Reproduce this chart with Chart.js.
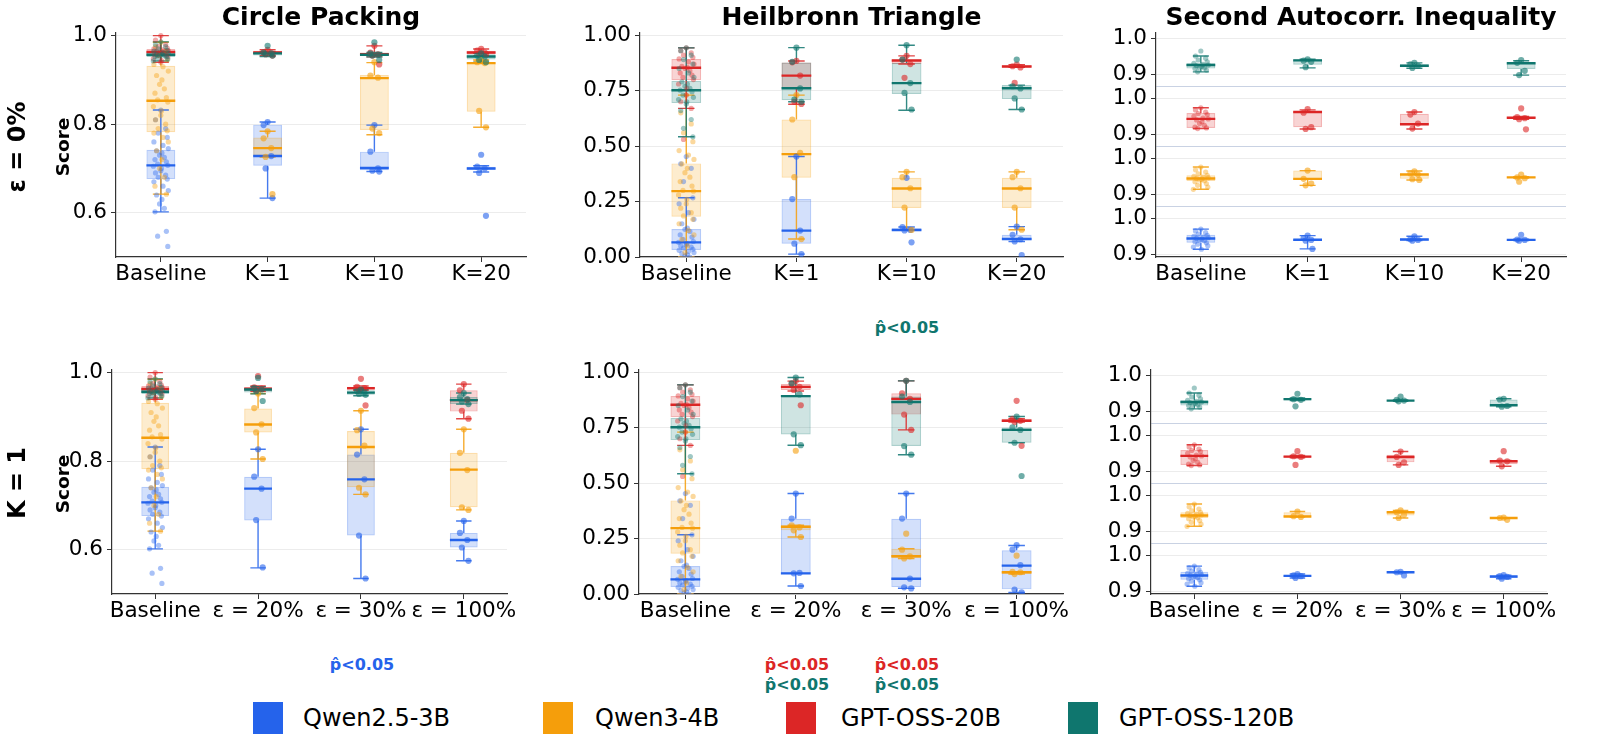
<!DOCTYPE html>
<html>
<head>
<meta charset="utf-8">
<script src="https://cdn.jsdelivr.net/npm/chart.js"></script>
<style>
  body { margin: 0; width: 1600px; height: 751px; overflow: hidden; background: #fff; position: relative; font-family: 'DejaVu Sans', sans-serif; }
  canvas { position: absolute; }
  .rot { position: absolute; white-space: nowrap; font-weight: bold; transform: translate(-50%, -50%) rotate(-90deg); }
  .note { position: absolute; white-space: nowrap; font-weight: bold; font-size: 16px; line-height: 20px; transform: translate(-50%, -50%); }
  .sw { position: absolute; top: 702px; width: 30px; height: 32px; }
  .leg { position: absolute; top: 702px; font-size: 24px; line-height: 32px; white-space: nowrap; }
</style>
</head>
<body>
<canvas id="cpTop"></canvas>
<canvas id="htTop"></canvas>
<canvas id="saTop"></canvas>
<canvas id="cpBot"></canvas>
<canvas id="htBot"></canvas>
<canvas id="saBot"></canvas>

<div class="rot" style="left:17px;top:147px;font-size:24px;">ε = 0%</div>
<div class="rot" style="left:62px;top:147px;font-size:18.5px;">Score</div>
<div class="rot" style="left:17px;top:483px;font-size:24px;">K = 1</div>
<div class="rot" style="left:62px;top:484px;font-size:18.5px;">Score</div>

<div class="note" style="left:907px;top:328px;color:#0F766E;">p̂&lt;0.05</div>
<div class="note" style="left:362px;top:665px;color:#2563EB;">p̂&lt;0.05</div>
<div class="note" style="left:797px;top:665px;color:#DC2626;">p̂&lt;0.05</div>
<div class="note" style="left:797px;top:685px;color:#0F766E;">p̂&lt;0.05</div>
<div class="note" style="left:907px;top:665px;color:#DC2626;">p̂&lt;0.05</div>
<div class="note" style="left:907px;top:685px;color:#0F766E;">p̂&lt;0.05</div>

<div id="legend"></div>

<script>
const models = ['Qwen2.5-3B', 'Qwen3-4B', 'GPT-OSS-20B', 'GPT-OSS-120B'];
const modelColors = ['#2563EB', '#F59E0B', '#DC2626', '#0F766E'];
const kCats = ['Baseline', 'K=1', 'K=10', 'K=20'];
const epsCats = ['Baseline', 'ε = 20%', 'ε = 30%', 'ε = 100%'];

// box stats: [whisker low, q1, median, q3, whisker high], one row per model

// ---- Circle Packing ----
const cpBaseBox = [[0.602,0.676,0.707,0.742,0.832],[0.642,0.782,0.853,0.932,0.985],[0.94,0.955,0.963,0.97,1.0],[0.943,0.952,0.957,0.965,0.986]];
const cpBasePts = [
  [0.832,0.81,0.79,0.78,0.77,0.76,0.752,0.745,0.74,0.735,0.73,0.725,0.72,0.715,0.71,0.707,0.705,0.70,0.695,0.69,0.685,0.68,0.676,0.67,0.66,0.65,0.64,0.63,0.62,0.61,0.602,0.558,0.547,0.524],
  [0.985,0.975,0.965,0.955,0.945,0.935,0.93,0.92,0.91,0.9,0.89,0.88,0.87,0.86,0.855,0.85,0.84,0.83,0.82,0.81,0.80,0.79,0.785,0.78,0.77,0.76,0.74,0.72,0.70,0.68,0.66,0.642],
  [1.0,0.99,0.98,0.975,0.972,0.97,0.968,0.966,0.964,0.963,0.962,0.96,0.958,0.956,0.955,0.952,0.948,0.944,0.94],
  [0.986,0.98,0.975,0.97,0.967,0.965,0.962,0.96,0.958,0.957,0.956,0.955,0.953,0.952,0.95,0.947,0.943]
];
const cpKBox = [
  [[0.633,0.706,0.728,0.799,0.805],[0.693,0.696,0.701,0.738,0.798],[0.692,0.697,0.70,0.704,0.706]],
  [[0.726,0.728,0.746,0.770,0.784],[0.776,0.787,0.904,0.911,0.939],[0.793,0.828,0.938,0.94,0.945]],
  [[0.955,0.958,0.962,0.966,0.968],[0.952,0.955,0.958,0.962,0.977],[0.955,0.958,0.962,0.966,0.97]],
  [[0.953,0.955,0.960,0.962,0.964],[0.952,0.954,0.957,0.96,0.962],[0.94,0.946,0.953,0.958,0.96]]
];
const cpKPts = [
  [[0.805,0.798,0.728,0.70,0.633],[0.798,0.738,0.70,0.695,0.693],[0.731,0.704,0.70,0.69,0.593]],
  [[0.784,0.768,0.746,0.726,0.642],[0.94,0.91,0.905,0.79,0.78],[0.945,0.94,0.938,0.83,0.793]],
  [[0.968,0.962,0.96,0.958,0.955],[0.977,0.962,0.958,0.955,0.935],[0.97,0.966,0.962,0.96,0.958]],
  [[0.977,0.962,0.96,0.958,0.955],[0.985,0.96,0.957,0.955,0.945],[0.96,0.955,0.953,0.945,0.94]]
];
const cpEpsBox = [
  [[0.559,0.666,0.738,0.765,0.827],[0.535,0.632,0.759,0.815,0.872],[0.575,0.605,0.622,0.638,0.665]],
  [[0.805,0.865,0.883,0.919,0.953],[0.725,0.741,0.832,0.868,0.914],[0.69,0.696,0.781,0.819,0.872]],
  [[0.958,0.958,0.964,0.967,0.97],[0.96,0.96,0.965,0.968,0.97],[0.896,0.912,0.938,0.96,0.974]],
  [[0.952,0.955,0.962,0.965,0.968],[0.948,0.95,0.955,0.96,0.962],[0.929,0.929,0.938,0.945,0.954]]
];
const cpEpsPts = [
  [[0.827,0.765,0.738,0.667,0.56],[0.872,0.815,0.759,0.632,0.535],[0.665,0.638,0.622,0.605,0.575]],
  [[0.953,0.92,0.883,0.865,0.805],[0.914,0.87,0.835,0.74,0.725],[0.872,0.819,0.78,0.696,0.69]],
  [[0.992,0.967,0.964,0.96],[0.986,0.968,0.965,0.96,0.926],[0.974,0.96,0.938,0.914,0.896]],
  [[0.988,0.965,0.962,0.958,0.936],[0.962,0.958,0.955,0.952,0.95],[0.954,0.945,0.94,0.935,0.929]]
];
const cpTicks = [0.6, 0.8, 1.0];

// ---- Heilbronn Triangle ----
const htBaseBox = [[0.0,0.032,0.066,0.126,0.267],[0.0,0.182,0.297,0.422,0.73],[0.67,0.797,0.853,0.893,0.943],[0.542,0.694,0.752,0.794,0.943]];
const htBasePts = [
  [0.453,0.42,0.4,0.34,0.267,0.24,0.2,0.17,0.15,0.13,0.125,0.115,0.1,0.09,0.08,0.07,0.066,0.06,0.055,0.05,0.045,0.04,0.035,0.03,0.025,0.02,0.015,0.01,0.005,0.0],
  [0.73,0.65,0.6,0.56,0.52,0.48,0.46,0.44,0.42,0.4,0.38,0.36,0.34,0.32,0.3,0.297,0.28,0.26,0.24,0.22,0.2,0.185,0.17,0.15,0.12,0.1,0.08,0.05,0.02],
  [0.943,0.93,0.92,0.91,0.9,0.893,0.88,0.87,0.86,0.855,0.85,0.84,0.83,0.82,0.81,0.8,0.78,0.76,0.73,0.7,0.67,0.53],
  [0.943,0.93,0.91,0.89,0.87,0.85,0.83,0.81,0.79,0.78,0.77,0.76,0.752,0.745,0.73,0.72,0.71,0.7,0.69,0.66,0.62,0.58,0.542]
];
const htKBox = [
  [[0.013,0.06,0.119,0.261,0.453],[0.12,0.12,0.122,0.13,0.135],[0.07,0.076,0.081,0.10,0.137]],
  [[0.081,0.357,0.464,0.62,0.73],[0.122,0.221,0.309,0.357,0.384],[0.123,0.221,0.309,0.357,0.384]],
  [[0.689,0.76,0.818,0.877,0.884],[0.87,0.87,0.886,0.89,0.907],[0.855,0.855,0.859,0.865,0.867]],
  [[0.70,0.707,0.761,0.877,0.944],[0.662,0.735,0.784,0.875,0.955],[0.665,0.712,0.761,0.775,0.775]]
];
const htKPts = [
  [[0.453,0.261,0.119,0.06,0.013],[0.357,0.135,0.122,0.12,0.066],[0.137,0.10,0.08,0.07,0.009]],
  [[0.73,0.62,0.47,0.36,0.081],[0.384,0.36,0.31,0.223,0.122],[0.384,0.36,0.31,0.223,0.123]],
  [[0.884,0.878,0.818,0.70,0.69],[0.907,0.89,0.87,0.808],[0.867,0.86,0.855,0.785]],
  [[0.944,0.88,0.76,0.71,0.70],[0.955,0.89,0.784,0.74,0.665],[0.89,0.77,0.76,0.715,0.665]]
];
const htEpsBox = [
  [[0.036,0.093,0.093,0.339,0.453],[0.026,0.031,0.069,0.339,0.453],[0.007,0.021,0.128,0.197,0.219]],
  [[0.257,0.287,0.303,0.31,0.31],[0.16,0.162,0.17,0.204,0.204],[0.09,0.09,0.098,0.10,0.10]],
  [[0.915,0.92,0.934,0.947,0.96],[0.74,0.809,0.88,0.905,0.961],[0.775,0.775,0.781,0.79,0.79]],
  [[0.671,0.719,0.892,0.892,0.976],[0.628,0.667,0.866,0.89,0.961],[0.682,0.682,0.74,0.751,0.80]]
];
const htEpsPts = [
  [[0.453,0.34,0.095,0.093,0.036],[0.453,0.34,0.069,0.03,0.025],[0.22,0.2,0.13,0.02,0.007]],
  [[0.646,0.31,0.3,0.287,0.257],[0.272,0.2,0.17,0.16],[0.173,0.1,0.098,0.09]],
  [[0.96,0.947,0.934,0.92,0.851],[0.961,0.905,0.88,0.809,0.74],[0.871,0.79,0.781,0.775,0.668]],
  [[0.976,0.95,0.9,0.72,0.671],[0.961,0.89,0.866,0.667,0.628],[0.8,0.751,0.74,0.682,0.532]]
];
const htTicks = [0, 0.25, 0.5, 0.75, 1.0];

// ---- Second Autocorr. Inequality (one band per model) ----
const saBaseBox = [[0.914,0.932,0.944,0.954,0.970],[0.914,0.937,0.944,0.953,0.976],[0.916,0.918,0.943,0.959,0.974],[0.907,0.916,0.926,0.931,0.951]];
const saBasePts = [
  [0.97,0.965,0.96,0.956,0.953,0.95,0.948,0.946,0.944,0.942,0.94,0.938,0.935,0.932,0.928,0.924,0.92,0.914],
  [0.976,0.968,0.962,0.957,0.953,0.95,0.948,0.946,0.944,0.942,0.94,0.938,0.935,0.93,0.925,0.92,0.914],
  [0.974,0.968,0.962,0.958,0.955,0.95,0.945,0.943,0.94,0.935,0.93,0.925,0.92,0.918,0.916],
  [0.965,0.951,0.945,0.94,0.935,0.931,0.928,0.926,0.924,0.922,0.92,0.918,0.916,0.912,0.907]
];
const saKBox = [
  [[0.915,0.937,0.94,0.945,0.952],[0.938,0.938,0.941,0.944,0.95],[0.938,0.939,0.94,0.941,0.942]],
  [[0.925,0.94,0.943,0.966,0.966],[0.94,0.943,0.955,0.958,0.965],[0.945,0.946,0.947,0.948,0.949]],
  [[0.915,0.92,0.962,0.964,0.968],[0.915,0.925,0.928,0.957,0.962],[0.942,0.944,0.946,0.949,0.95]],
  [[0.918,0.927,0.939,0.942,0.942],[0.917,0.92,0.924,0.928,0.932],[0.898,0.915,0.931,0.933,0.938]]
];
const saKPts = [
  [[0.952,0.945,0.94,0.938,0.915],[0.95,0.942,0.94,0.938],[0.954,0.941,0.94,0.938]],
  [[0.966,0.943,0.93,0.925],[0.964,0.958,0.955,0.942,0.94],[0.955,0.947,0.945,0.935]],
  [[0.97,0.96,0.92,0.915],[0.962,0.955,0.93,0.916],[0.972,0.948,0.945,0.942,0.914]],
  [[0.942,0.938,0.935,0.92],[0.932,0.928,0.924,0.918],[0.94,0.932,0.91,0.898]]
];
const saEpsBox = [
  [[0.937,0.94,0.943,0.946,0.948],[0.952,0.952,0.953,0.954,0.954],[0.935,0.937,0.941,0.943,0.945]],
  [[0.94,0.94,0.941,0.953,0.955],[0.937,0.944,0.953,0.956,0.958],[0.936,0.936,0.937,0.938,0.938]],
  [[0.938,0.938,0.941,0.944,0.944],[0.918,0.925,0.94,0.946,0.955],[0.914,0.92,0.928,0.93,0.93]],
  [[0.93,0.93,0.934,0.937,0.937],[0.928,0.929,0.93,0.931,0.932],[0.913,0.915,0.917,0.933,0.935]]
];
const saEpsPts = [
  [[0.948,0.944,0.942,0.937],[0.954,0.953,0.944],[0.945,0.942,0.94,0.935]],
  [[0.955,0.942,0.94],[0.958,0.953,0.946,0.937],[0.938,0.937,0.932]],
  [[0.956,0.942,0.94,0.918],[0.955,0.94,0.925,0.918],[0.956,0.93,0.928,0.914]],
  [[0.949,0.934,0.932,0.914],[0.941,0.932,0.93,0.928],[0.935,0.933,0.915,0.913]]
];
const saTicks = [0.9, 1.0];

// ---------------------------------------------------------------
Chart.defaults.font.family = "'DejaVu Sans', sans-serif";
Chart.defaults.color = '#000';

const BAND = 1 / 6;          // vertical step between model bands on the broken axis
const BOX_W = 0.135;         // half box width, category units
const CAP_W = 0.075;         // half cap width
const JIT = [0, -0.05, 0.045, -0.025, 0.06, -0.065, 0.02, 0.07, -0.04, 0.01, -0.012, 0.033, -0.055, 0.052, -0.03, 0.065, -0.07, 0.005];
const Y_W = 90, PAD_R = 90, X_H = 40;

function rgba(hex, a) {
  const n = parseInt(hex.slice(1), 16);
  return `rgba(${n >> 16},${(n >> 8) & 255},${n & 255},${a})`;
}

function makePanel(id, geo, cats, baseBox, basePts, box, pts, yAxis) {
  const el = document.getElementById(id);
  const topPad = geo.title ? 33 : 20;
  const w = geo.width + Y_W + PAD_R;
  const h = topPad + geo.height + X_H;
  el.width = w; el.height = h;
  el.style.left = (geo.left - Y_W) + 'px';
  el.style.top = (geo.top - topPad) + 'px';
  el.style.width = w + 'px'; el.style.height = h + 'px';

  const T = yAxis.broken ? (v, m) => v - 0.9 + m * BAND : (v) => v;
  const datasets = [];
  models.forEach((name, m) => {
    const col = modelColors[m];
    const boxes = [baseBox[m], ...box[m]];
    const ptsets = [basePts[m], ...pts[m]];
    datasets.push({
      type: 'bar', label: name, order: 100 - m, grouped: false,
      data: boxes.map((b, c) => ({ x: c, y: [T(b[1], m), T(b[3], m)] })),
      backgroundColor: rgba(col, 0.2), borderColor: rgba(col, 0.35), borderWidth: 1.2,
      borderSkipped: false, barPercentage: 2 * BOX_W, categoryPercentage: 1
    });
    const wh = [];
    boxes.forEach((b, c) => {
      wh.push({ x: c, y: T(b[0], m) }, { x: c, y: T(b[1], m) }, { x: c, y: null });
      wh.push({ x: c, y: T(b[3], m) }, { x: c, y: T(b[4], m) }, { x: c, y: null });
      wh.push({ x: c - CAP_W, y: T(b[0], m) }, { x: c + CAP_W, y: T(b[0], m) }, { x: c, y: null });
      wh.push({ x: c - CAP_W, y: T(b[4], m) }, { x: c + CAP_W, y: T(b[4], m) }, { x: c, y: null });
    });
    datasets.push({
      type: 'line', order: 80 - m, data: wh, borderColor: rgba(col, 0.85), borderWidth: 1.4,
      pointRadius: 0, spanGaps: false, tension: 0, fill: false
    });
    const med = [];
    boxes.forEach((b, c) => {
      med.push({ x: c - BOX_W, y: T(b[2], m) }, { x: c + BOX_W, y: T(b[2], m) }, { x: c, y: null });
    });
    datasets.push({
      type: 'line', order: 60 - m, data: med, borderColor: col, borderWidth: 2.4,
      pointRadius: 0, spanGaps: false, tension: 0, fill: false
    });
    ptsets.forEach((arr, c) => {
      const spread = c === 0 ? 1 : 0.75;
      datasets.push({
        type: 'scatter', order: 40 - m,
        data: arr.map((v, i) => ({ x: c + JIT[i % JIT.length] * spread, y: T(v, m) })),
        backgroundColor: rgba(col, c === 0 ? 0.4 : 0.6), borderWidth: 0,
        pointRadius: c === 0 ? 2.6 : 3.1
      });
    });
  });

  const ticksY = [];
  if (yAxis.broken) {
    for (let m = 0; m < 4; m++) {
      yAxis.ticks.forEach(t => ticksY.push({ value: T(t, m), label: t.toFixed(1) }));
      if (m < 3) ticksY.push({ value: m * BAND + (BAND + 0.1) / 2, sep: true });
    }
  } else {
    yAxis.ticks.forEach(t => ticksY.push({ value: t }));
  }

  new Chart(el, {
    type: 'scatter',
    data: { datasets },
    options: {
      responsive: false, animation: false, devicePixelRatio: 1,
      layout: { padding: { top: geo.title ? 0 : topPad, right: PAD_R, left: 0, bottom: 0 } },
      plugins: {
        legend: { display: false }, tooltip: { enabled: false },
        title: {
          display: !!geo.title, text: geo.title || '', fullSize: false,
          font: { size: 25, weight: 'bold' }, color: '#000', padding: { top: 3, bottom: 0 }
        }
      },
      scales: {
        x: {
          type: 'linear', min: -0.42, max: 3.42, offset: false,
          afterBuildTicks: s => { s.ticks = cats.map((_, i) => ({ value: i })); },
          afterFit: s => { s.height = X_H; },
          ticks: { callback: v => cats[v], font: { size: 21.5 }, color: '#000', padding: 0, autoSkip: false, maxRotation: 0 },
          grid: { drawOnChartArea: false, offset: false, tickLength: 5, tickColor: '#333', tickWidth: 1 },
          border: { color: '#333', width: 1.2 }
        },
        y: {
          type: 'linear', min: yAxis.min, max: yAxis.max, beginAtZero: false,
          afterBuildTicks: s => { s.ticks = ticksY.map(t => ({ ...t })); },
          afterFit: s => { s.width = Y_W; },
          ticks: {
            autoSkip: false, font: { size: 21.5 }, color: '#000', padding: 4,
            callback: (v, i) => ticksY[i].sep ? '' : (ticksY[i].label || v.toFixed(yAxis.digits))
          },
          grid: {
            color: c => (c.tick && c.tick.sep) ? '#c9d2e3' : '#ececec',
            lineWidth: 1, tickLength: 5, tickWidth: 1,
            tickColor: c => (c.tick && c.tick.sep) ? 'rgba(0,0,0,0)' : '#333'
          },
          border: { color: '#333', width: 1.2 }
        }
      }
    }
  });
}

const cpAxis = { min: 0.5, max: 1.006, ticks: cpTicks, digits: 1 };
const htAxis = { min: 0, max: 1.01, ticks: htTicks, digits: 2 };
const saAxis = { min: -0.0075, max: 0.615, ticks: saTicks, broken: true };

makePanel('cpTop', { left: 116, top: 33, width: 410, height: 224, title: 'Circle Packing' }, kCats, cpBaseBox, cpBasePts, cpKBox, cpKPts, cpAxis);
makePanel('htTop', { left: 640, top: 33, width: 423, height: 224, title: 'Heilbronn Triangle' }, kCats, htBaseBox, htBasePts, htKBox, htKPts, htAxis);
makePanel('saTop', { left: 1156, top: 33, width: 410, height: 224, title: 'Second Autocorr. Inequality' }, kCats, saBaseBox, saBasePts, saKBox, saKPts, saAxis);
makePanel('cpBot', { left: 112, top: 370, width: 395, height: 224 }, epsCats, cpBaseBox, cpBasePts, cpEpsBox, cpEpsPts, cpAxis);
makePanel('htBot', { left: 639, top: 370, width: 424, height: 224 }, epsCats, htBaseBox, htBasePts, htEpsBox, htEpsPts, htAxis);
makePanel('saBot', { left: 1151, top: 370, width: 396, height: 224 }, epsCats, saBaseBox, saBasePts, saEpsBox, saEpsPts, saAxis);

// figure legend
const legendX = [253, 543, 786, 1068];
const legendTextX = [303, 595, 841, 1119];
const leg = document.getElementById('legend');
models.forEach((name, m) => {
  leg.insertAdjacentHTML('beforeend',
    `<div class="sw" style="left:${legendX[m]}px;background:${modelColors[m]}"></div>` +
    `<div class="leg" style="left:${legendTextX[m]}px">${name}</div>`);
});
</script>
</body>
</html>
